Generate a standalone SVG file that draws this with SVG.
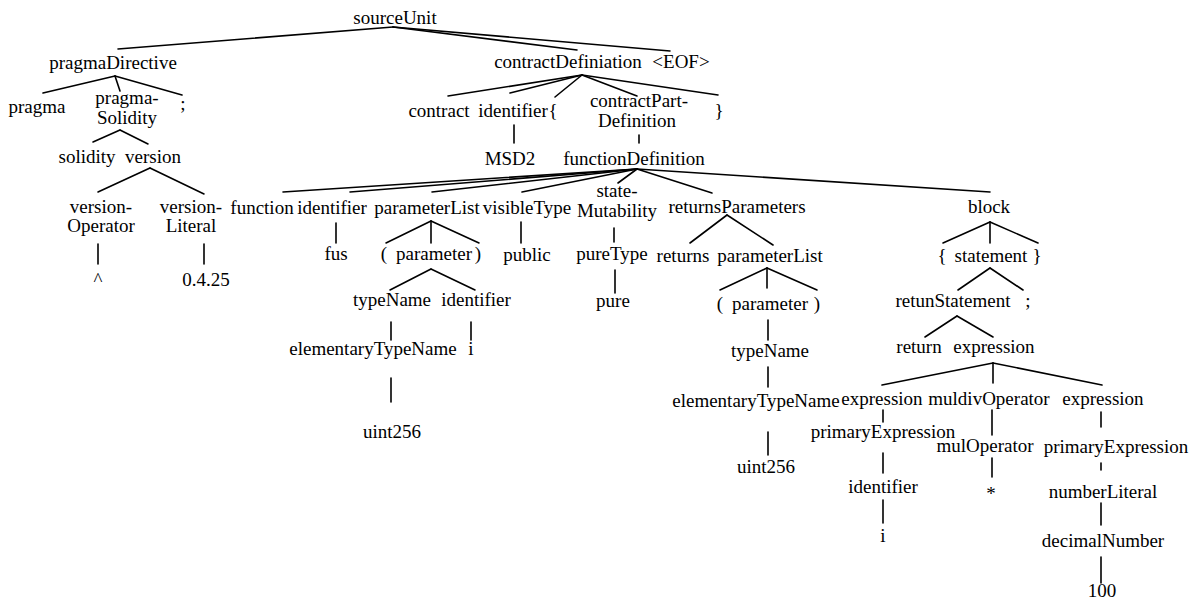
<svg xmlns="http://www.w3.org/2000/svg" width="1198" height="600" viewBox="0 0 1198 600">
<style>
text{font-family:"Liberation Serif","Times New Roman",serif;font-size:19px;fill:#000;text-anchor:middle}
#connectors line{stroke:#000;stroke-width:1.6;stroke-linecap:round}
</style>
<rect width="1198" height="600" fill="#fff"/>
<g id="connectors">
<line x1="393" y1="27" x2="118" y2="49"/>
<line x1="393" y1="27" x2="577" y2="50"/>
<line x1="393" y1="27" x2="670" y2="51"/>
<line x1="115" y1="76" x2="43" y2="93"/>
<line x1="115" y1="76" x2="120" y2="91"/>
<line x1="115" y1="76" x2="182" y2="95"/>
<line x1="120" y1="130" x2="93" y2="142"/>
<line x1="120" y1="130" x2="148" y2="144"/>
<line x1="150" y1="168" x2="98" y2="192"/>
<line x1="150" y1="168" x2="204" y2="194"/>
<line x1="98" y1="244" x2="98" y2="264"/>
<line x1="204" y1="244" x2="204" y2="264"/>
<line x1="582" y1="75" x2="448" y2="96"/>
<line x1="582" y1="75" x2="510" y2="93"/>
<line x1="582" y1="75" x2="555" y2="97"/>
<line x1="582" y1="75" x2="637" y2="96"/>
<line x1="582" y1="75" x2="718" y2="95"/>
<line x1="514" y1="125" x2="514" y2="143"/>
<line x1="639" y1="135" x2="639" y2="143"/>
<line x1="637" y1="169" x2="283" y2="192"/>
<line x1="637" y1="169" x2="350" y2="192"/>
<line x1="637" y1="169" x2="432" y2="192"/>
<line x1="637" y1="169" x2="522" y2="192"/>
<line x1="637" y1="169" x2="618" y2="183"/>
<line x1="637" y1="169" x2="712" y2="193"/>
<line x1="637" y1="169" x2="990" y2="192"/>
<line x1="336" y1="223" x2="336" y2="243"/>
<line x1="431" y1="221" x2="386" y2="243"/>
<line x1="431" y1="221" x2="431" y2="243"/>
<line x1="431" y1="221" x2="479" y2="243"/>
<line x1="431" y1="269" x2="390" y2="290"/>
<line x1="431" y1="269" x2="475" y2="290"/>
<line x1="391" y1="322" x2="391" y2="340"/>
<line x1="471" y1="322" x2="471" y2="340"/>
<line x1="391" y1="378" x2="391" y2="402"/>
<line x1="521" y1="222" x2="521" y2="243"/>
<line x1="614" y1="228" x2="614" y2="242"/>
<line x1="615" y1="270" x2="615" y2="293"/>
<line x1="727" y1="215" x2="690" y2="243"/>
<line x1="727" y1="215" x2="773" y2="245"/>
<line x1="767" y1="268" x2="720" y2="290"/>
<line x1="767" y1="268" x2="767" y2="288"/>
<line x1="767" y1="268" x2="817" y2="290"/>
<line x1="768" y1="320" x2="768" y2="340"/>
<line x1="768" y1="367" x2="768" y2="387"/>
<line x1="768" y1="432" x2="768" y2="455"/>
<line x1="990" y1="222" x2="943" y2="243"/>
<line x1="990" y1="222" x2="990" y2="243"/>
<line x1="990" y1="222" x2="1038" y2="243"/>
<line x1="990" y1="268" x2="958" y2="290"/>
<line x1="990" y1="268" x2="1023" y2="290"/>
<line x1="957" y1="316" x2="925" y2="337"/>
<line x1="957" y1="316" x2="993" y2="337"/>
<line x1="993" y1="363" x2="882" y2="385"/>
<line x1="993" y1="363" x2="993" y2="383"/>
<line x1="993" y1="363" x2="1102" y2="385"/>
<line x1="883" y1="410" x2="883" y2="422"/>
<line x1="992" y1="410" x2="992" y2="435"/>
<line x1="1101" y1="412" x2="1101" y2="427"/>
<line x1="883" y1="453" x2="883" y2="473"/>
<line x1="992" y1="458" x2="992" y2="477"/>
<line x1="1101" y1="463" x2="1101" y2="470"/>
<line x1="883" y1="500" x2="883" y2="523"/>
<line x1="1101" y1="503" x2="1101" y2="525"/>
<line x1="1101" y1="557" x2="1101" y2="583"/>
</g>
<g id="n-sourceUnit"><text x="395" y="24">sourceUnit</text></g>
<g id="n-pragmaDirective"><text x="113" y="69">pragmaDirective</text></g>
<g id="n-contractDefiniation"><text x="568" y="68">contractDefiniation</text></g>
<g id="n-eof"><text x="681" y="68">&lt;EOF&gt;</text></g>
<g id="n-pragma"><text x="37" y="113">pragma</text></g>
<g id="n-pragmaSolidity"><text x="127" y="104">pragma-</text><text x="127" y="124">Solidity</text></g>
<g id="n-semi1"><text x="183" y="110">;</text></g>
<g id="n-solidity"><text x="87" y="163">solidity</text></g>
<g id="n-version"><text x="153" y="163">version</text></g>
<g id="n-versionOperator"><text x="101" y="213">version-</text><text x="101" y="232">Operator</text></g>
<g id="n-versionLiteral"><text x="191" y="213">version-</text><text x="191" y="232">Literal</text></g>
<g id="n-caret"><text x="98" y="286">^</text></g>
<g id="n-ver"><text x="206" y="286">0.4.25</text></g>
<g id="n-contract"><text x="439" y="117">contract</text></g>
<g id="n-identifier1"><text x="513" y="117">identifier</text></g>
<g id="n-lbrace1"><text x="553" y="117">{</text></g>
<g id="n-contractPartDefinition"><text x="639" y="107">contractPart-</text><text x="637" y="127">Definition</text></g>
<g id="n-rbrace1"><text x="719" y="117">}</text></g>
<g id="n-MSD2"><text x="510" y="165">MSD2</text></g>
<g id="n-functionDefinition"><text x="634" y="165">functionDefinition</text></g>
<g id="n-function"><text x="262" y="214">function</text></g>
<g id="n-identifier2"><text x="332" y="214">identifier</text></g>
<g id="n-parameterList1"><text x="427" y="214">parameterList</text></g>
<g id="n-visibleType"><text x="527" y="214">visibleType</text></g>
<g id="n-stateMutability"><text x="617" y="197">state-</text><text x="617" y="217">Mutability</text></g>
<g id="n-returnsParameters"><text x="737" y="213">returnsParameters</text></g>
<g id="n-block"><text x="989" y="213">block</text></g>
<g id="n-fus"><text x="336" y="260">fus</text></g>
<g id="n-lparen1"><text x="384" y="260">(</text></g>
<g id="n-parameter1"><text x="434" y="260">parameter</text></g>
<g id="n-rparen1"><text x="478" y="260">)</text></g>
<g id="n-typeName1"><text x="392" y="306">typeName</text></g>
<g id="n-identifier3"><text x="476" y="306">identifier</text></g>
<g id="n-elementaryTypeName1"><text x="373" y="355">elementaryTypeName</text></g>
<g id="n-i1"><text x="471" y="355">i</text></g>
<g id="n-uint256a"><text x="392" y="438">uint256</text></g>
<g id="n-public"><text x="527" y="261">public</text></g>
<g id="n-pureType"><text x="612" y="260">pureType</text></g>
<g id="n-pure"><text x="613" y="307">pure</text></g>
<g id="n-returns"><text x="683" y="262">returns</text></g>
<g id="n-parameterList2"><text x="770" y="262">parameterList</text></g>
<g id="n-lparen2"><text x="720" y="310">(</text></g>
<g id="n-parameter2"><text x="770" y="310">parameter</text></g>
<g id="n-rparen2"><text x="817" y="310">)</text></g>
<g id="n-typeName2"><text x="770" y="357">typeName</text></g>
<g id="n-elementaryTypeName2"><text x="756" y="407">elementaryTypeName</text></g>
<g id="n-uint256b"><text x="766" y="473">uint256</text></g>
<g id="n-lbrace2"><text x="942" y="262">{</text></g>
<g id="n-statement"><text x="991" y="262">statement</text></g>
<g id="n-rbrace2"><text x="1037" y="262">}</text></g>
<g id="n-retunStatement"><text x="953" y="307">retunStatement</text></g>
<g id="n-semi2"><text x="1028" y="307">;</text></g>
<g id="n-return"><text x="919" y="353">return</text></g>
<g id="n-expression1"><text x="994" y="353">expression</text></g>
<g id="n-expression2"><text x="882" y="405">expression</text></g>
<g id="n-muldivOperator"><text x="989" y="405">muldivOperator</text></g>
<g id="n-expression3"><text x="1103" y="405">expression</text></g>
<g id="n-primaryExpression1"><text x="883" y="438">primaryExpression</text></g>
<g id="n-mulOperator"><text x="985" y="452">mulOperator</text></g>
<g id="n-primaryExpression2"><text x="1116" y="453">primaryExpression</text></g>
<g id="n-identifier4"><text x="883" y="493">identifier</text></g>
<g id="n-star"><text x="991" y="500">*</text></g>
<g id="n-numberLiteral"><text x="1103" y="498">numberLiteral</text></g>
<g id="n-i2"><text x="883" y="542">i</text></g>
<g id="n-decimalNumber"><text x="1103" y="547">decimalNumber</text></g>
<g id="n-100"><text x="1102" y="597">100</text></g>
</svg>
